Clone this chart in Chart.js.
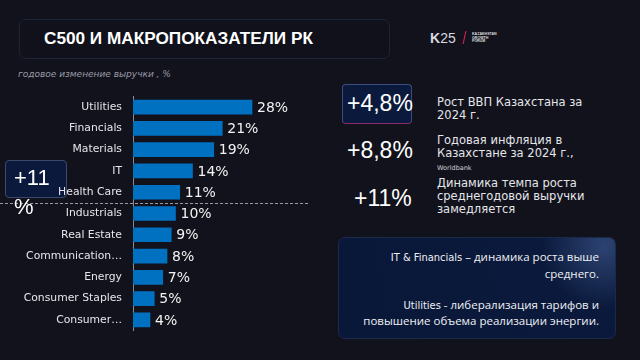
<!DOCTYPE html>
<html lang="ru">
<head>
<meta charset="UTF-8">
<title>C500 и макропоказатели РК</title>
<script src="https://cdn.jsdelivr.net/npm/chart.js"></script>
<style>
  body { margin: 0; background: #11121c; font-family: "Noto Sans", sans-serif; color: #fff; }
  #page { position: relative; width: 640px; height: 360px; overflow: hidden; background: #11121c; }
  .abs { position: absolute; }
  #titleBox { left: 19px; top: 19px; width: 369px; height: 38px; border: 1px solid #1c2538; border-radius: 7px; background: #10111b; }
  #title { left: 44px; top: 28px; font: bold 17.2px "Liberation Sans", Arial, sans-serif; white-space: nowrap; }
  #logo { left: 430px; top: 30px; font: 14px "Liberation Sans", sans-serif; color: #d8d8e0; white-space: nowrap; }
  #logo b { font-weight: bold; }
  #slash { left: 464px; top: 31px; width: 1px; height: 13px; background: #e0245e; transform: skewX(-12deg); }
  #forum { left: 472px; top: 33px; font: bold 3.6px "Liberation Sans", sans-serif; line-height: 3.7px; color: #ddd; }
  #sub { left: 18px; top: 69px; font: italic 9px "DejaVu Sans", sans-serif; color: #9a9aa6; white-space: nowrap; }
  #revChart { left: 0; top: 79px; z-index: 2; }
  #box11 { left: 5px; top: 160px; width: 60px; height: 36px; border: 1px solid #3a4a6a; border-radius: 4px; background: #0b1a3c; z-index: 1; }
  #t11 { left: 14px; top: 163px; font: 22px "Liberation Sans", sans-serif; line-height: 29px; z-index: 3; }
  #box48 { left: 342px; top: 84px; width: 68px; height: 38px; border: 1px solid #3a4d80; border-bottom-color: #8a2a6a; border-radius: 4px; background: #0b1a3c; }
  .big { font: 23px "Liberation Sans", sans-serif; white-space: nowrap; }
  .note { font: 11.5px "DejaVu Sans", sans-serif; color: #e6e6ea; line-height: 13px; white-space: nowrap; }
  #wb { font-size: 6.5px; color: #cfcfd6; line-height: 10px; }
  #bottomBox { left: 338px; top: 237px; width: 276px; height: 100px; border: 1px solid #1a2a4a; border-radius: 7px;
    background: radial-gradient(circle at 96% 8%, #2c4372 0%, #0b1a3c 22%, #091838 100%); }
  #bottomText { left: 338px; top: 249px; width: 261px; text-align: right; font: 11.5px "Open Sans", sans-serif; line-height: 15.5px; color: #f0f0f4; }
  .cond { font-family: "Liberation Sans Narrow", "DejaVu Sans Condensed", sans-serif; font-size: 11px; }
</style>
</head>
<body>
<div id="page">
  <div id="titleBox" class="abs"></div>
  <div id="title" class="abs">С500 И МАКРОПОКАЗАТЕЛИ РК</div>
  <div id="logo" class="abs"><b>K</b>25</div>
  <div id="slash" class="abs"></div>
  <div id="forum" class="abs">KAZAKHSTAN<br>GROWTH<br>FORUM</div>

  <div id="sub" class="abs">годовое изменение выручки , %</div>
  <div id="box11" class="abs"></div>
  <canvas id="revChart" class="abs" width="320" height="269"></canvas>
  <div id="t11" class="abs">+11<br>%</div>

  <div id="box48" class="abs"></div>
  <div class="abs big" style="left:347px; top:90px;">+4,8%</div>
  <div class="abs note" style="left:437px; top:96px;">Рост ВВП Казахстана за<br>2024 г.</div>

  <div class="abs big" style="left:347px; top:137px;">+8,8%</div>
  <div class="abs note" style="left:437px; top:134px;">Годовая инфляция в<br>Казахстане за 2024 г.,<br><span id="wb">Worldbank</span></div>

  <div class="abs big" style="left:354px; top:185px;">+11%</div>
  <div class="abs note" style="left:437px; top:177px;">Динамика темпа роста<br>среднегодовой выручки<br>замедляется</div>

  <div id="bottomBox" class="abs"></div>
  <div id="bottomText" class="abs"><span class="cond">IT &amp; Financials</span> – динамика роста выше<br>среднего.<br><br><span class="cond">Utilities</span> - либерализация тарифов и<br>повышение объема реализации энергии.</div>
</div>

<script>
  // сектора и годовое изменение выручки, %
  const sectors = ['Utilities', 'Financials', 'Materials', 'IT', 'Health Care', 'Industrials',
                   'Real Estate', 'Communication…', 'Energy', 'Consumer Staples', 'Consumer…'];
  const growth = [28, 21, 19, 14, 11, 10, 9, 8, 7, 5, 4];
  const avgAfterIndex = 4; // линия среднего (+11%) после Health Care

  // подписи значений и пунктир среднего
  const extras = {
    id: 'extras',
    afterDatasetsDraw(chart) {
      const ctx = chart.ctx;
      const meta = chart.getDatasetMeta(0);
      ctx.save();
      ctx.fillStyle = '#f2f2f2';
      ctx.font = '14px "DejaVu Sans", sans-serif';
      ctx.textBaseline = 'middle';
      meta.data.forEach((bar, i) => {
        ctx.fillText(growth[i] + '%', bar.x + 5, bar.y + 1);
      });
      const yScale = chart.scales.y;
      const y = Math.round((yScale.getPixelForTick(avgAfterIndex) + yScale.getPixelForTick(avgAfterIndex + 1)) / 2) + 0.5;
      ctx.strokeStyle = '#9a9aa6';
      ctx.lineWidth = 1;
      ctx.setLineDash([3, 2]);
      ctx.beginPath();
      ctx.moveTo(0, y);
      ctx.lineTo(308, y);
      ctx.stroke();
      ctx.restore();
    }
  };

  new Chart(document.getElementById('revChart'), {
    type: 'bar',
    data: {
      labels: sectors,
      datasets: [{
        data: growth,
        backgroundColor: '#0070c0',
        borderWidth: 0,
        barThickness: 14
      }]
    },
    options: {
      indexAxis: 'y',
      responsive: false,
      animation: false,
      layout: { padding: 0 },
      plugins: { legend: { display: false }, tooltip: { enabled: false } },
      scales: {
        x: { display: false, min: 0, max: 44 },
        y: {
          afterFit(axis) { axis.width = 133; },
          grid: { display: false, drawTicks: false },
          border: { display: true, color: '#8a8a94', width: 1 },
          ticks: { color: '#e6e6ea', padding: 11, font: { family: 'DejaVu Sans', size: 10.8 } }
        }
      }
    },
    plugins: [extras]
  });
</script>
</body>
</html>
